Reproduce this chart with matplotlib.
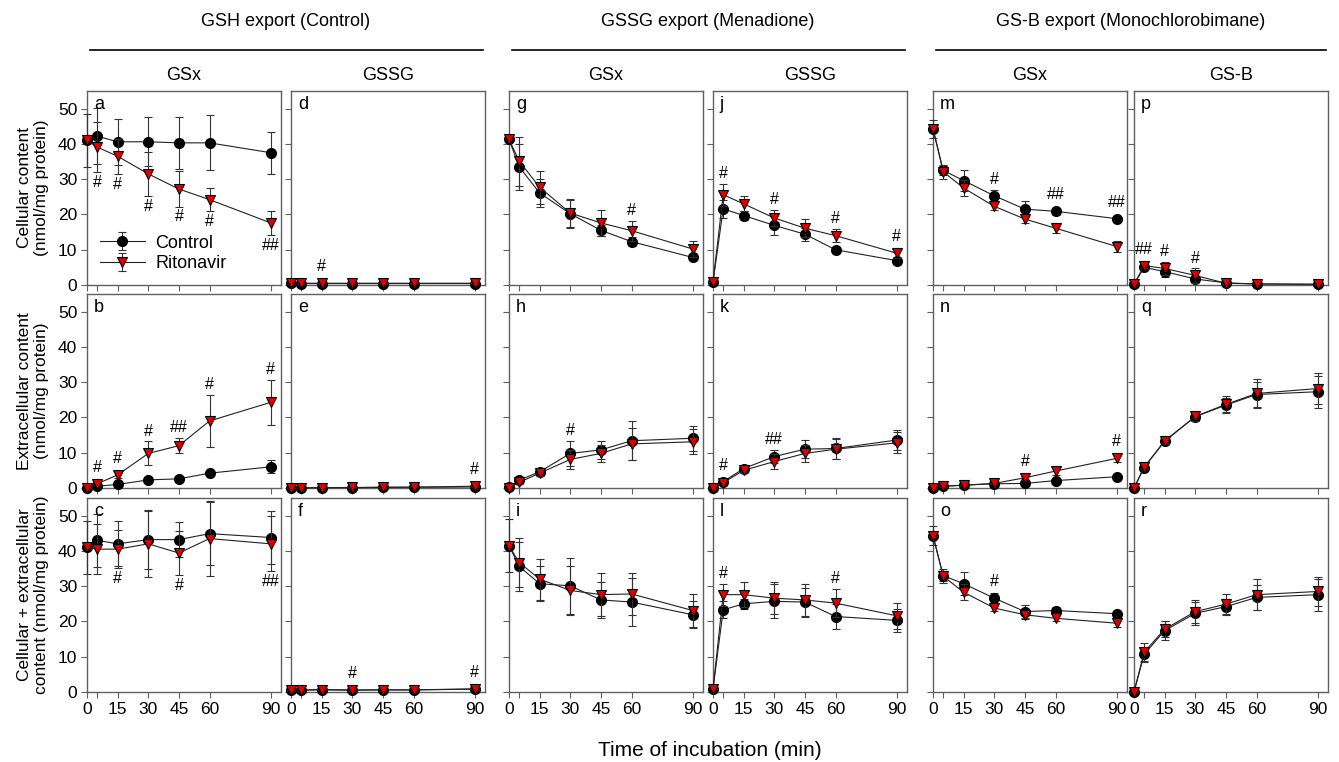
import matplotlib
matplotlib.use("Agg")
import matplotlib.pyplot as plt
from matplotlib.lines import Line2D

plt.rcParams['font.family'] = ['Liberation Sans', 'DejaVu Sans']

# time points (min)
t = [0, 5, 15, 30, 45, 60, 90]

# GSH export (Control) - GSx / GSSG
a_c = [41, 42.2, 40.6, 40.6, 40.3, 40.3, 37.5]
a_ce = [7.5, 8, 6.6, 7, 7.3, 7.8, 6]
a_r = [41, 39.1, 36.5, 31.5, 27.2, 24.2, 17.6]
a_re = [0, 7, 5, 6.3, 5, 3.3, 3.5]

b_c = [0, 0.5, 1.0, 2.3, 2.6, 4.2, 6.0]
b_ce = [0, 0.2, 0.3, 0.5, 0.5, 0.7, 1.8]
b_r = [0, 1.2, 3.7, 9.8, 12.0, 19.0, 24.3]
b_re = [0, 0.4, 0.8, 3.4, 2.1, 7.5, 6.4]

c_c = [41, 43.0, 42.0, 43.2, 43.2, 44.9, 43.8]
c_ce = [7.5, 7.5, 6.4, 8.3, 5, 9, 7.4]
c_r = [41, 40.5, 40.5, 42, 39.4, 43.5, 42]
c_re = [0, 7, 5.4, 9.4, 6.2, 10.7, 7.8]

d_c = [0.5, 0.4, 0.4, 0.4, 0.4, 0.4, 0.4]
d_ce = [0.2, 0.2, 0.2, 0.2, 0.2, 0.2, 0.2]
d_r = [0.6, 0.5, 0.5, 0.5, 0.5, 0.5, 0.5]
d_re = [0.2, 0.2, 0.2, 0.2, 0.2, 0.2, 0.2]

e_c = [0, 0, 0.1, 0.1, 0.2, 0.2, 0.3]
e_ce = [0, 0, 0.1, 0.1, 0.1, 0.1, 0.1]
e_r = [0, 0.05, 0.1, 0.15, 0.2, 0.25, 0.5]
e_re = [0, 0, 0.1, 0.1, 0.1, 0.1, 0.2]

f_c = [0.6, 0.5, 0.6, 0.5, 0.6, 0.6, 0.8]
f_ce = [0.2, 0.2, 0.2, 0.2, 0.2, 0.2, 0.2]
f_r = [0.7, 0.6, 0.7, 0.6, 0.6, 0.6, 0.9]
f_re = [0.2, 0.2, 0.2, 0.2, 0.2, 0.2, 0.2]

# GSSG export (Menadione) - GSx / GSSG
g_c = [41.3, 33.5, 26.1, 20.2, 15.5, 12.3, 7.8]
g_ce = [0, 6.5, 4, 4, 1.5, 1.2, 0.8]
g_r = [41.3, 35.1, 27.7, 20.4, 17.6, 15.4, 10.2]
g_re = [0, 7, 4.7, 4, 3.7, 2.8, 2.4]

h_c = [0.2, 2.2, 4.6, 9.8, 10.8, 13.4, 14.1]
h_ce = [0, 0.4, 0.8, 3.5, 2.5, 5.6, 3.5]
h_r = [0, 1.6, 4.2, 8.1, 9.8, 12.5, 13.1]
h_re = [0, 0.4, 0.8, 2.8, 2.5, 4.6, 3.5]

i_c = [41.5, 35.6, 30.7, 30.1, 26.1, 25.5, 21.9]
i_ce = [7.5, 7, 5, 8, 5, 6.8, 3.8]
i_r = [41.5, 36.7, 32.0, 28.8, 27.6, 27.8, 23.1]
i_re = [0, 7, 5.8, 7, 6, 6, 4.7]

j_c = [0.8, 21.6, 19.7, 16.9, 14.4, 10.0, 6.9]
j_ce = [0, 2.6, 1.3, 2.7, 1.8, 0.8, 1]
j_r = [0.8, 25.6, 23.0, 19.0, 16.1, 14.0, 9.0]
j_re = [0, 3.1, 2.1, 2.3, 2.6, 1.8, 1.4]

k_c = [0, 1.8, 5.5, 8.9, 11.0, 11.2, 13.6]
k_ce = [0, 0.4, 0.8, 1.9, 2.6, 3, 2.8]
k_r = [0, 1.5, 5.0, 7.5, 9.8, 11.0, 12.8]
k_re = [0, 0.4, 0.8, 2.1, 2.5, 2.9, 3]

l_c = [0.8, 23.3, 25.0, 25.7, 25.5, 21.4, 20.3]
l_ce = [0, 2.4, 1.4, 4.8, 4.1, 3.6, 3.2]
l_r = [0.8, 27.6, 27.6, 26.6, 26.1, 25.2, 21.6]
l_re = [0, 3.1, 3.5, 4.5, 4.6, 4, 3.6]

# GS-B export (Monochlorobimane) - GSx / GS-B
m_c = [44.3, 32.5, 29.6, 25.3, 21.5, 20.9, 18.8]
m_ce = [2.5, 1.3, 3, 1.5, 2.2, 1, 0.8]
m_r = [44.3, 32.1, 27.5, 22.3, 18.7, 16.1, 10.9]
m_re = [0, 2, 2.4, 1, 1, 1.4, 1.6]

n_c = [0, 0.5, 0.8, 1.2, 1.3, 2.1, 3.2]
n_ce = [0, 0.1, 0.2, 0.2, 0.3, 0.3, 0.4]
n_r = [0, 0.5, 0.8, 1.3, 2.9, 4.8, 8.4]
n_re = [0, 0.1, 0.2, 0.3, 0.6, 1.2, 1.1]

o_c = [44.3, 33.0, 30.7, 26.6, 22.8, 23.1, 22.2]
o_ce = [2.7, 1.4, 3.3, 1.6, 1.9, 1, 0.8]
o_r = [44.3, 32.8, 28.3, 23.8, 21.9, 20.9, 19.5]
o_re = [0, 2, 2.2, 0.8, 1.3, 0.8, 1.1]

p_c = [0.2, 5.0, 3.8, 1.7, 0.6, 0.3, 0.2]
p_ce = [0, 0.6, 1.4, 0.8, 0.3, 0.1, 0.1]
p_r = [0.2, 5.5, 4.7, 2.7, 0.5, 0.3, 0.2]
p_re = [0, 0.6, 1.9, 2, 0.3, 0.1, 0.1]

q_c = [0, 5.8, 13.4, 20.2, 23.5, 26.5, 27.3]
q_ce = [0, 0.6, 0.8, 1.2, 2.0, 3.6, 4.5]
q_r = [0, 6.0, 13.2, 20.3, 23.7, 26.8, 28.2]
q_re = [0, 0.6, 0.8, 1.2, 2.3, 4.2, 4.4]

r_c = [0, 10.7, 17.4, 22.3, 24.2, 26.8, 27.6]
r_ce = [0, 1.9, 2.6, 3.3, 2.3, 3.5, 4.5]
r_r = [0, 11.3, 17.8, 22.8, 24.9, 27.6, 28.5]
r_re = [0, 2.7, 2.2, 3.3, 2.8, 4.4, 4]

# significance marks: (time index, text, series, side)
a_marks = [(1, '#', 'r', 'below'), (2, '#', 'r', 'below'), (3, '#', 'r', 'below'),
           (4, '#', 'r', 'below'), (5, '#', 'r', 'below'), (6, '##', 'r', 'below')]
b_marks = [(1, '#', 'r', 'above'), (2, '#', 'r', 'above'), (3, '#', 'r', 'above'),
           (4, '##', 'r', 'above'), (5, '#', 'r', 'above'), (6, '#', 'r', 'above')]
c_marks = [(2, '#', 'r', 'below'), (4, '#', 'r', 'below'), (6, '##', 'r', 'below')]
d_marks = [(2, '#', 'r', 'above')]
e_marks = [(6, '#', 'r', 'above')]
f_marks = [(3, '#', 'r', 'above'), (6, '#', 'r', 'above')]
g_marks = [(5, '#', 'r', 'above')]
h_marks = [(3, '#', 'c', 'above')]
i_marks = []
j_marks = [(1, '#', 'r', 'above'), (3, '#', 'r', 'above'), (5, '#', 'r', 'above'), (6, '#', 'r', 'above')]
k_marks = [(1, '#', 'c', 'above'), (3, '##', 'c', 'above')]
l_marks = [(1, '#', 'r', 'above'), (5, '#', 'r', 'above')]
m_marks = [(3, '#', 'c', 'above'), (5, '##', 'c', 'above'), (6, '##', 'c', 'above')]
n_marks = [(4, '#', 'r', 'above'), (6, '#', 'r', 'above')]
o_marks = [(3, '#', 'c', 'above')]
p_marks = [(1, '##', 'r', 'above'), (2, '#', 'r', 'above'), (3, '#', 'r', 'above')]
q_marks = []
r_marks = []

panels = [
    ('a', a_c, a_ce, a_r, a_re, a_marks), ('b', b_c, b_ce, b_r, b_re, b_marks),
    ('c', c_c, c_ce, c_r, c_re, c_marks), ('d', d_c, d_ce, d_r, d_re, d_marks),
    ('e', e_c, e_ce, e_r, e_re, e_marks), ('f', f_c, f_ce, f_r, f_re, f_marks),
    ('g', g_c, g_ce, g_r, g_re, g_marks), ('h', h_c, h_ce, h_r, h_re, h_marks),
    ('i', i_c, i_ce, i_r, i_re, i_marks), ('j', j_c, j_ce, j_r, j_re, j_marks),
    ('k', k_c, k_ce, k_r, k_re, k_marks), ('l', l_c, l_ce, l_r, l_re, l_marks),
    ('m', m_c, m_ce, m_r, m_re, m_marks), ('n', n_c, n_ce, n_r, n_re, n_marks),
    ('o', o_c, o_ce, o_r, o_re, o_marks), ('p', p_c, p_ce, p_r, p_re, p_marks),
    ('q', q_c, q_ce, q_r, q_re, q_marks), ('r', r_c, r_ce, r_r, r_re, r_marks),
]

groups = ['GSH export (Control)', 'GSSG export (Menadione)', 'GS-B export (Monochlorobimane)']
subgroups = ['GSx', 'GSSG', 'GSx', 'GSSG', 'GSx', 'GS-B']
row_labels = ['Cellular content\n(nmol/mg protein)',
              'Extracellular content\n(nmol/mg protein)',
              'Cellular + extracellular\ncontent (nmol/mg protein)']

W, H = 1339, 762
fig = plt.figure(figsize=(W / 100, H / 100), dpi=100)

col_left = [87, 291, 509, 713, 933, 1134]
row_top = [91, 294, 498]
pw, ph = 194, 194
frame = '#606060'


def no_clip(container):
    for art in container.get_children():
        art.set_clip_on(False)


for k, (letter, cv, ce, rv, re_, marks) in enumerate(panels):
    col, row = k // 3, k % 3
    ax = fig.add_axes([col_left[col] / W, 1 - (row_top[row] + ph) / H, pw / W, ph / H])
    e1 = ax.errorbar(t, cv, yerr=ce, fmt='-o', color='#222222', lw=0.8,
                     ms=7, mfc='black', mec='black', ecolor='#333333',
                     elinewidth=0.8, capsize=3, capthick=0.8, zorder=3, label='Control')
    e2 = ax.errorbar(t, rv, yerr=re_, fmt='-v', color='#222222', lw=0.8,
                     ms=7.5, mfc='#e00000', mec='black', mew=0.8, ecolor='#333333',
                     elinewidth=0.8, capsize=3, capthick=0.8, zorder=4, label='Ritonavir')
    no_clip(e1)
    no_clip(e2)
    ax.set_xlim(0, 95)
    ax.set_ylim(0, 55)
    ax.set_xticks(t)
    ax.set_yticks([0, 10, 20, 30, 40, 50])
    ax.tick_params(direction='out', length=4, width=0.8, color=frame, labelsize=12.5, pad=3)
    if row == 2:
        ax.set_xticklabels(['0', '', '15', '30', '45', '60', '90'])
    else:
        ax.set_xticklabels([])
    if col != 0:
        ax.set_yticklabels([])
    for sp in ax.spines.values():
        sp.set_color(frame)
        sp.set_linewidth(1)
    ax.text(0.035, 0.975, letter, transform=ax.transAxes, ha='left', va='top', fontsize=13)

    for idx, txt, ser, side in marks:
        v = cv[idx] if ser == 'c' else rv[idx]
        e = ce[idx] if ser == 'c' else re_[idx]
        pts = e * 194 / 55 * 0.72
        off = 2 + max(0, 4.5 - pts)
        if side == 'above':
            ax.annotate(txt, (t[idx], v + e), xytext=(0, off), textcoords='offset points',
                        ha='center', va='bottom', fontsize=11.5, annotation_clip=False)
        else:
            ax.annotate(txt, (t[idx], v - e), xytext=(0, -off), textcoords='offset points',
                        ha='center', va='top', fontsize=11.5, annotation_clip=False)

    if letter == 'a':
        ax.legend(loc='lower left', frameon=False, fontsize=13, handlelength=2.5,
                  borderaxespad=0.3, labelspacing=0.2, handletextpad=0.6,
                  bbox_to_anchor=(0.0, 0.0))

for r, lab in enumerate(row_labels):
    yc = 1 - (row_top[r] + ph / 2) / H
    fig.text(33 / W, yc, lab, rotation=90, ha='center', va='center', fontsize=12.5, linespacing=1.2)

for g, name in enumerate(groups):
    x0 = col_left[2 * g]
    x1 = col_left[2 * g + 1] + pw
    fig.text((x0 + x1) / 2 / W, 1 - 22 / H, name, ha='center', va='center', fontsize=13)
    fig.add_artist(Line2D([(x0 + 3) / W, (x1 - 2) / W], [1 - 50 / H, 1 - 50 / H],
                          color='black', lw=1.2))

for c, name in enumerate(subgroups):
    fig.text((col_left[c] + pw / 2) / W, 1 - 75 / H, name, ha='center', va='center', fontsize=13)

fig.text(710 / W, 1 - 750 / H, 'Time of incubation (min)', ha='center', va='center', fontsize=15)

fig.savefig('out.png', dpi=100)
